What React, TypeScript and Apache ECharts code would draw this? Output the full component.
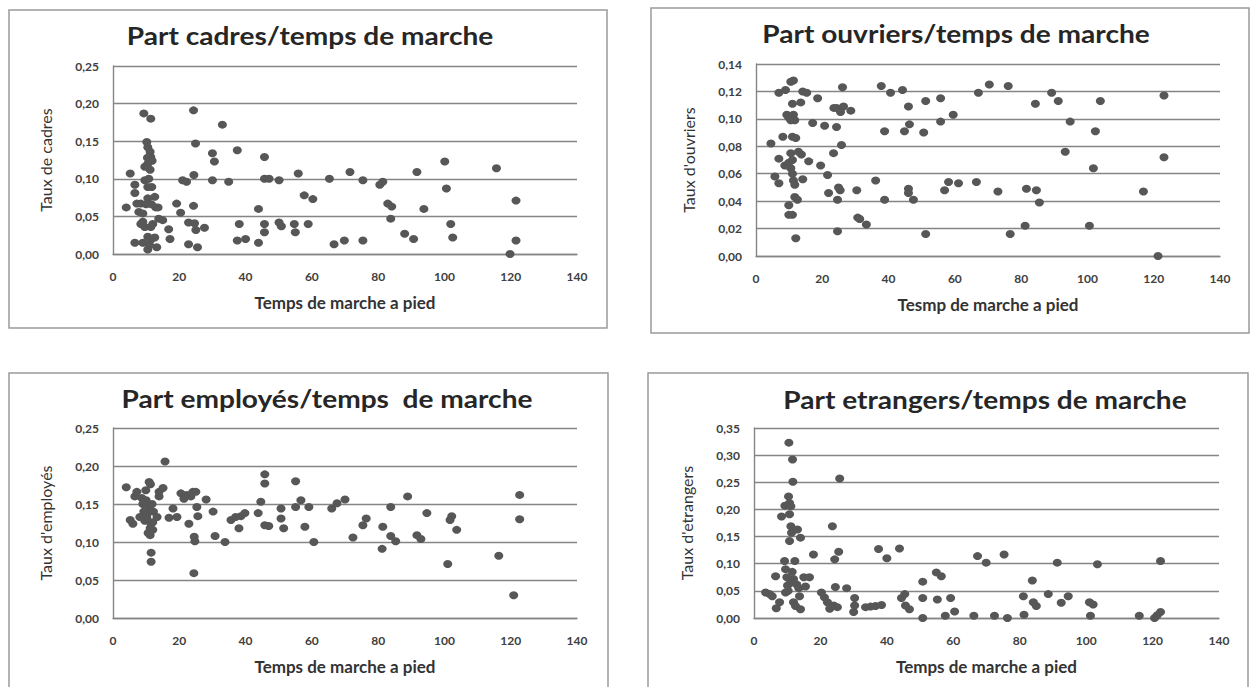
import React, { useEffect, useRef } from "react";
import * as echarts from "echarts";

const X_TICKS_MAX = 140;
const X_INTERVAL = 20;

const cadres: [number, number][] = [
  [4.0, 0.062], [5.2, 0.107], [6.6, 0.092], [6.6, 0.081], [6.6, 0.015], [7.2, 0.067], [7.8, 0.056], [8.4, 0.067],
  [9.3, 0.187], [11.4, 0.180], [10.2, 0.149], [10.5, 0.142], [11.2, 0.136], [11.4, 0.129], [10.5, 0.120], [9.6, 0.116],
  [11.2, 0.112], [9.6, 0.098], [10.5, 0.089], [11.7, 0.089], [12.6, 0.076], [10.5, 0.074], [9.0, 0.043], [9.6, 0.036],
  [11.4, 0.036], [9.0, 0.054], [12.9, 0.062], [13.6, 0.062], [13.8, 0.047], [15.0, 0.045], [16.8, 0.033], [17.2, 0.020],
  [10.5, 0.023], [11.4, 0.019], [12.6, 0.022], [13.2, 0.009], [10.5, 0.006], [11.0, 0.012], [8.4, 0.040], [10.0, 0.066],
  [11.6, 0.066], [10.8, 0.100], [10.4, 0.128], [11.8, 0.124], [9.0, 0.015], [12.0, 0.040],
  [19.2, 0.067], [20.4, 0.055], [21.0, 0.098], [22.2, 0.096], [22.8, 0.042], [22.8, 0.013], [24.3, 0.191], [24.9, 0.147],
  [24.4, 0.105], [24.3, 0.064], [24.6, 0.041], [25.0, 0.032], [25.5, 0.009], [27.6, 0.035], [30.0, 0.134], [30.6, 0.123],
  [30.0, 0.098], [33.0, 0.172], [34.9, 0.096], [37.5, 0.138], [38.1, 0.040], [37.5, 0.018], [40.0, 0.020], [43.9, 0.015],
  [43.9, 0.060], [45.7, 0.129], [45.7, 0.100], [45.7, 0.040], [45.7, 0.029], [47.1, 0.100], [50.1, 0.098], [50.1, 0.042],
  [50.8, 0.037], [54.7, 0.040], [55.0, 0.029], [55.9, 0.107], [57.7, 0.078], [58.9, 0.040], [60.3, 0.073], [65.3, 0.100],
  [66.7, 0.013], [69.8, 0.018], [71.5, 0.109], [75.4, 0.098], [75.4, 0.018], [80.5, 0.092], [81.4, 0.096], [82.9, 0.067],
  [84.1, 0.063], [83.8, 0.047], [88.0, 0.027], [90.7, 0.020], [91.7, 0.109], [93.8, 0.060], [100.1, 0.123], [100.6, 0.087],
  [101.9, 0.040], [102.5, 0.022], [115.7, 0.114], [119.8, 0.000], [121.6, 0.071], [121.6, 0.018],
];

const ouvriers: [number, number][] = [
  [4.5, 0.082], [5.7, 0.058], [6.9, 0.071], [6.9, 0.053], [6.9, 0.119], [8.9, 0.121], [8.1, 0.087], [8.7, 0.066],
  [9.3, 0.103], [9.9, 0.101], [9.9, 0.037], [9.9, 0.030], [11.0, 0.030], [10.5, 0.127], [11.3, 0.128], [11.0, 0.111],
  [11.3, 0.103], [11.7, 0.099], [10.5, 0.099], [11.0, 0.087], [12.0, 0.086], [10.5, 0.075], [11.0, 0.070], [9.9, 0.068],
  [10.5, 0.064], [11.0, 0.060], [11.3, 0.055], [11.7, 0.052], [11.7, 0.043], [12.5, 0.041], [12.0, 0.013], [13.5, 0.112],
  [14.1, 0.120], [15.3, 0.119], [12.8, 0.076], [13.7, 0.074], [14.1, 0.056], [15.9, 0.069], [17.1, 0.097], [18.6, 0.115],
  [19.5, 0.066], [20.7, 0.095], [21.6, 0.059], [21.9, 0.046], [23.4, 0.075], [23.5, 0.108], [24.3, 0.094], [24.3, 0.108],
  [24.6, 0.041], [24.6, 0.018], [24.9, 0.050], [25.4, 0.048], [25.5, 0.105], [25.8, 0.081], [26.1, 0.123], [26.4, 0.109],
  [28.6, 0.106], [30.4, 0.048], [30.7, 0.028], [31.3, 0.027], [33.3, 0.023], [36.1, 0.055], [37.8, 0.124], [38.8, 0.091],
  [38.8, 0.041], [40.6, 0.119], [44.2, 0.121], [44.8, 0.091], [46.0, 0.109], [46.3, 0.096], [46.0, 0.049], [46.0, 0.046],
  [47.5, 0.041], [50.6, 0.090], [51.2, 0.113], [51.2, 0.016], [55.7, 0.115], [55.7, 0.098], [56.9, 0.048], [58.1, 0.054],
  [59.5, 0.103], [61.1, 0.053], [66.5, 0.054], [67.1, 0.119], [70.4, 0.125], [73.0, 0.047], [76.1, 0.124], [76.7, 0.016],
  [81.2, 0.022], [81.6, 0.049], [84.3, 0.111], [84.6, 0.048], [85.5, 0.039], [89.2, 0.119], [91.2, 0.113], [93.3, 0.076],
  [94.8, 0.098], [100.6, 0.022], [101.8, 0.064], [102.4, 0.091], [103.9, 0.113], [116.9, 0.047], [121.3, 0.000], [123.1, 0.072],
  [123.1, 0.117],
];

const employes: [number, number][] = [
  [4.0, 0.172], [5.2, 0.129], [6.0, 0.124], [6.6, 0.160], [7.2, 0.166], [8.1, 0.133], [8.7, 0.158], [9.0, 0.150],
  [9.3, 0.140], [9.6, 0.128], [10.9, 0.179], [11.3, 0.176], [10.0, 0.155], [10.9, 0.146], [10.5, 0.138], [11.5, 0.124],
  [11.2, 0.118], [11.2, 0.109], [12.0, 0.116], [12.0, 0.126], [11.5, 0.086], [11.5, 0.074], [13.3, 0.133], [13.9, 0.166],
  [13.9, 0.160], [15.1, 0.171], [15.7, 0.206], [9.9, 0.168], [10.2, 0.132], [11.8, 0.150], [12.2, 0.140], [10.6, 0.112],
  [16.9, 0.132], [18.1, 0.144], [19.3, 0.133], [20.5, 0.164], [21.4, 0.157], [22.3, 0.162], [22.9, 0.124], [23.5, 0.160],
  [24.1, 0.166], [24.4, 0.059], [24.5, 0.107], [24.7, 0.101], [25.0, 0.166], [25.3, 0.146], [25.6, 0.134], [28.1, 0.156],
  [30.2, 0.140], [30.8, 0.108], [33.8, 0.100], [35.6, 0.129], [37.0, 0.133], [38.0, 0.118], [38.6, 0.134], [39.8, 0.138],
  [43.8, 0.138], [44.6, 0.153], [45.8, 0.189], [45.8, 0.177], [45.8, 0.122], [47.0, 0.121], [50.7, 0.144], [50.7, 0.131],
  [51.5, 0.118], [55.1, 0.180], [55.1, 0.146], [56.7, 0.155], [57.9, 0.120], [59.1, 0.146], [60.6, 0.100], [66.0, 0.144],
  [67.6, 0.151], [70.0, 0.156], [72.4, 0.106], [75.4, 0.122], [76.4, 0.131], [81.2, 0.091], [81.4, 0.120], [83.8, 0.146],
  [83.8, 0.108], [85.3, 0.101], [88.9, 0.160], [91.7, 0.109], [92.9, 0.104], [94.7, 0.138], [101.0, 0.071], [101.7, 0.129],
  [102.2, 0.134], [103.7, 0.116], [116.4, 0.082], [120.9, 0.030], [122.7, 0.162], [122.7, 0.130],
];

const etrangers: [number, number][] = [
  [3.5, 0.047], [4.7, 0.044], [5.5, 0.040], [6.5, 0.077], [6.7, 0.018], [7.7, 0.029], [8.3, 0.187], [9.3, 0.207],
  [9.2, 0.105], [9.5, 0.090], [9.5, 0.047], [9.9, 0.075], [10.1, 0.060], [10.4, 0.224], [10.5, 0.323], [10.7, 0.212],
  [10.7, 0.191], [11.1, 0.169], [10.7, 0.142], [11.3, 0.157], [11.1, 0.206], [11.6, 0.292], [11.7, 0.251], [11.9, 0.072],
  [12.3, 0.105], [11.9, 0.029], [12.5, 0.022], [13.1, 0.163], [13.5, 0.055], [14.0, 0.148], [13.7, 0.040], [14.0, 0.016],
  [10.3, 0.050], [11.0, 0.065], [11.5, 0.085], [12.8, 0.062],
  [15.0, 0.075], [15.5, 0.058], [16.7, 0.075], [17.9, 0.117], [20.3, 0.047], [21.2, 0.038], [22.1, 0.029], [22.8, 0.017],
  [23.6, 0.169], [24.3, 0.108], [24.0, 0.023], [24.5, 0.057], [25.1, 0.020], [25.5, 0.122], [25.8, 0.257], [27.9, 0.055],
  [30.0, 0.011], [30.3, 0.037], [30.3, 0.023], [33.6, 0.020], [35.1, 0.021], [36.6, 0.022], [37.5, 0.127], [38.4, 0.024],
  [40.0, 0.110], [43.8, 0.128], [44.4, 0.037], [45.4, 0.044], [45.6, 0.023], [46.8, 0.016], [50.8, 0.067], [50.8, 0.037],
  [50.8, 0.000], [54.9, 0.084], [56.4, 0.077], [55.2, 0.034], [57.6, 0.004], [59.2, 0.037], [60.4, 0.012], [66.2, 0.004],
  [67.3, 0.114], [69.9, 0.102], [72.4, 0.004], [75.3, 0.117], [76.3, 0.000], [81.1, 0.040], [81.3, 0.006], [83.8, 0.069],
  [84.1, 0.029], [85.0, 0.022], [88.6, 0.044], [91.3, 0.102], [92.5, 0.028], [94.6, 0.040], [101.0, 0.029], [102.1, 0.025],
  [101.3, 0.004], [103.4, 0.099], [116.0, 0.004], [120.6, 0.000], [121.4, 0.005], [122.4, 0.011], [122.4, 0.105],
];

const titles = [
  "Part cadres/temps de marche",
  "Part ouvriers/temps de marche",
  "Part employés/temps  de marche",
  "Part etrangers/temps de marche",
];
const yNames = ["Taux de cadres", "Taux d'ouvriers", "Taux d'employés", "Taux d'etrangers"];
const xNames = ["Temps de marche a pied", "Tesmp de marche a pied", "Temps de marche a pied", "Temps de marche a pied"];
const yMaxs = [0.25, 0.14, 0.25, 0.35];
const yIntervals = [0.05, 0.02, 0.05, 0.05];

const layout = [
  { grid: { left: 113, top: 66, width: 464, height: 188 }, box: [9, 10, 598, 318], title: [310, 36] },
  { grid: { left: 756, top: 64, width: 464, height: 192 }, box: [651, 8, 598, 325], title: [956, 34] },
  { grid: { left: 113, top: 428, width: 464, height: 190 }, box: [9, 373, 599, 330], title: [327, 399] },
  { grid: { left: 754, top: 428, width: 465, height: 190 }, box: [648, 373, 600, 330], title: [985, 400] },
];

const FONT = "Lato, 'Open Sans', sans-serif";
const GRID_COLOR = "#858585";

export default function App() {
  const ref = useRef<HTMLDivElement>(null);
  useEffect(() => {
    if (!ref.current) return;
    const chart = echarts.init(ref.current, null, { renderer: "svg" });
    const datasets = [cadres, ouvriers, employes, etrangers];
    const option: any = {
      animation: false,
      backgroundColor: "#ffffff",
      grid: layout.map((l) => ({ ...l.grid, containLabel: false })),
      xAxis: layout.map((l, i) => ({
        type: "value",
        gridIndex: i,
        min: 0,
        max: X_TICKS_MAX,
        interval: X_INTERVAL,
        name: xNames[i],
        nameLocation: "middle",
        nameGap: 40,
        nameTextStyle: { fontFamily: FONT, fontSize: 17, fontWeight: "bold", color: "#333" },
        axisLine: { show: true, lineStyle: { color: GRID_COLOR, width: 1.4 } },
        axisTick: { show: false },
        splitLine: { show: false },
        axisLabel: { fontFamily: FONT, fontSize: 12, fontWeight: "bold", color: "#404040", margin: 16 },
      })),
      yAxis: layout.map((l, i) => ({
        type: "value",
        gridIndex: i,
        min: 0,
        max: yMaxs[i],
        interval: yIntervals[i],
        name: yNames[i],
        nameLocation: "middle",
        nameRotate: 90,
        nameGap: 60,
        nameTextStyle: { fontFamily: FONT, fontSize: 16, color: "#333" },
        axisLine: { show: true, lineStyle: { color: GRID_COLOR, width: 1.4 } },
        axisTick: { show: false },
        splitLine: { show: true, lineStyle: { color: GRID_COLOR, width: 1.4 } },
        axisLabel: {
          fontFamily: FONT,
          fontSize: 12,
          fontWeight: "bold",
          color: "#404040",
          margin: 14,
          formatter: (v: number) => v.toFixed(2).replace(".", ","),
        },
      })),
      series: datasets.map((d, i) => ({
        type: "scatter",
        xAxisIndex: i,
        yAxisIndex: i,
        data: d,
        symbol: "circle",
        symbolSize: [9, 8],
        itemStyle: { color: "#575757", opacity: 1 },
      })),
      graphic: [
        ...layout.map((l) => ({
          type: "rect",
          silent: true,
          z: -10,
          shape: { x: l.box[0], y: l.box[1], width: l.box[2], height: l.box[3] },
          style: { fill: "none", stroke: "#9a9a9a", lineWidth: 1.5 },
        })),
        ...layout.map((l, i) => ({
          type: "text",
          x: l.title[0],
          y: l.title[1],
          scaleX: 1.17,
          style: {
            text: titles[i],
            fontFamily: FONT,
            fontSize: 24,
            fontWeight: "bold",
            fill: "#262626",
            align: "center",
            verticalAlign: "middle",
            textAlign: "center",
            textVerticalAlign: "middle",
          },
        })),
      ],
    };
    chart.setOption(option);
    return () => chart.dispose();
  }, []);
  return (
    <div
      ref={ref}
      style={{ position: "fixed", left: 0, top: 0, width: 1254, height: 687, background: "#fff" }}
    />
  );
}
